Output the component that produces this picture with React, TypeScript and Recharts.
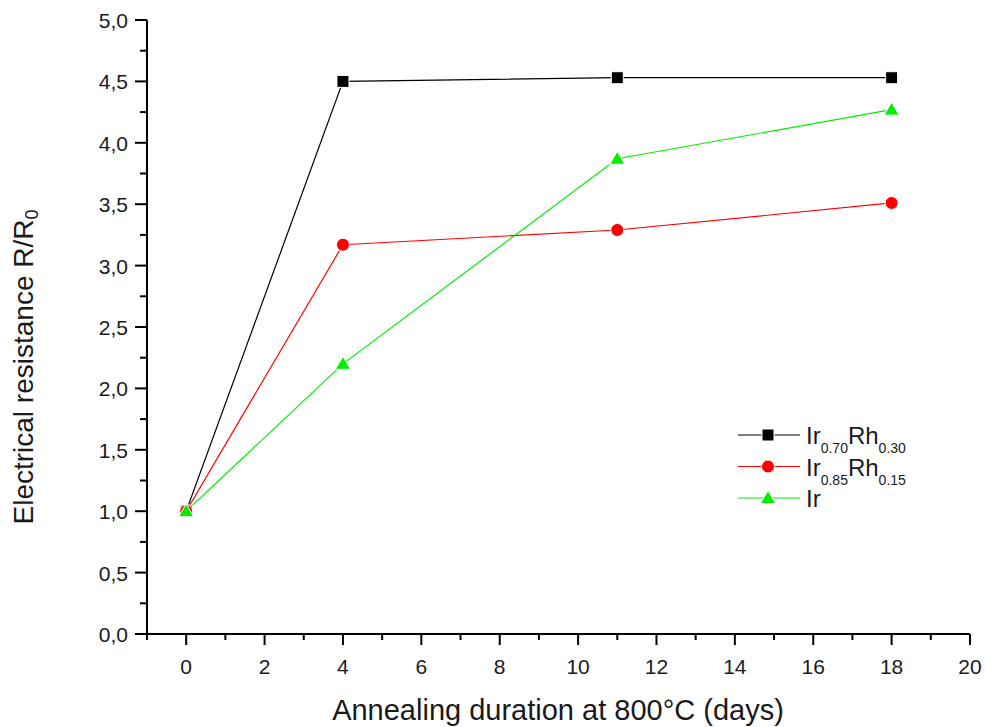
import { LineChart, Line, XAxis, YAxis, Legend } from "recharts";

// annealing duration (days) and normalised resistance R/R0
const DAYS = [0, 4, 11, 18];
const IR70_RH30 = [1.0, 4.5, 4.53, 4.53];
const IR85_RH15 = [1.0, 3.17, 3.29, 3.51];
const IR_PURE = [1.0, 2.2, 3.87, 4.27];

const X_TICKS = [-1, 0, 1, 2, 3, 4, 5, 6, 7, 8, 9, 10, 11, 12, 13, 14, 15, 16, 17, 18, 19, 20];
const Y_TICKS = [
  0, 0.25, 0.5, 0.75, 1, 1.25, 1.5, 1.75, 2, 2.25, 2.5, 2.75, 3, 3.25, 3.5, 3.75, 4, 4.25, 4.5, 4.75, 5,
];

const FONT = "'Liberation Sans', Arial, sans-serif";
const TEXT = "#1a1a1a";

const rows = DAYS.map((d, i) => ({
  day: d,
  a: IR70_RH30[i],
  b: IR85_RH15[i],
  c: IR_PURE[i],
}));

const XTick = (props: any) => {
  const { x, y, payload } = props;
  const v = payload.value;
  const major = v >= 0 && v % 2 === 0;
  return (
    <g>
      <line x1={x} x2={x} y1={y} y2={y + (major ? 11 : 6)} stroke="#000" strokeWidth={2} />
      {major && (
        <text x={x} y={y + 40} textAnchor="middle" fontSize={21} fontFamily={FONT} fill={TEXT}>
          {v}
        </text>
      )}
    </g>
  );
};

const YTick = (props: any) => {
  const { x, y, payload } = props;
  const v = payload.value;
  const major = v % 0.5 === 0;
  return (
    <g>
      <line x1={x} x2={x - (major ? 12 : 7)} y1={y} y2={y} stroke="#000" strokeWidth={2} />
      {major && (
        <text x={x - 19} y={y + 8} textAnchor="end" fontSize={21} fontFamily={FONT} fill={TEXT}>
          {v.toFixed(1).replace(".", ",")}
        </text>
      )}
    </g>
  );
};

const square = (cx: number, cy: number, key?: string) => (
  <rect key={key} x={cx - 6} y={cy - 6} width={12} height={12} fill="#000" stroke="#fff" strokeWidth={1} />
);
const circle = (cx: number, cy: number, key?: string) => (
  <circle key={key} cx={cx} cy={cy} r={6.5} fill="#ff0000" stroke="#fff" strokeWidth={1} />
);
const triangle = (cx: number, cy: number, key?: string) => (
  <polygon
    key={key}
    points={`${cx},${cy - 7.5} ${cx + 7.5},${cy + 5.5} ${cx - 7.5},${cy + 5.5}`}
    fill="#00ee00"
    stroke="#fff"
    strokeWidth={1}
  />
);

const LEGEND = [
  { main: ["Ir", "Rh"], subs: ["0.70", "0.30"], color: "#000", marker: square },
  { main: ["Ir", "Rh"], subs: ["0.85", "0.15"], color: "#ff0000", marker: circle },
  { main: ["Ir"], subs: [], color: "#00ee00", marker: triangle },
];

const renderLegend = () => (
  <svg width={220} height={100}>
    {LEGEND.map((it, i) => {
      const cy = 17 + i * 31.5;
      return (
        <g key={i}>
          <line x1={8} x2={70} y1={cy} y2={cy} stroke={it.color} strokeWidth={1.2} />
          {it.marker(38, cy)}
          <text x={76} y={cy + 9} fontSize={24} fontFamily={FONT} fill={TEXT}>
            {it.main.map((m, j) => (
              <tspan key={j}>
                <tspan dy={j === 0 ? 0 : -9} fontSize={24}>
                  {m}
                </tspan>
                {it.subs[j] && (
                  <tspan dy={9} fontSize={14}>
                    {it.subs[j]}
                  </tspan>
                )}
              </tspan>
            ))}
          </text>
        </g>
      );
    })}
  </svg>
);

export default function App() {
  return (
    <div style={{ position: "absolute", left: 0, top: 0, background: "#fff" }}>
      <LineChart width={986} height={727} data={rows} margin={{ top: 20, right: 16, left: 0, bottom: 0 }}>
        <XAxis
          dataKey="day"
          type="number"
          domain={[-1, 20]}
          ticks={X_TICKS}
          interval={0}
          tickSize={0}
          tickMargin={0}
          tickLine={false}
          tick={<XTick />}
          height={93}
          axisLine={{ stroke: "#000", strokeWidth: 2 }}
          allowDataOverflow
          label={{
            content: () => (
              <text x={558} y={720} textAnchor="middle" fontSize={29} fontFamily={FONT} fill={TEXT}>
                Annealing duration at 800°C (days)
              </text>
            ),
          }}
        />
        <YAxis
          type="number"
          domain={[0, 5]}
          ticks={Y_TICKS}
          interval={0}
          tickSize={0}
          tickMargin={0}
          tickLine={false}
          tick={<YTick />}
          width={147}
          axisLine={{ stroke: "#000", strokeWidth: 2 }}
          label={{
            content: () => (
              <text
                x={33}
                y={367}
                transform="rotate(-90, 33, 367)"
                textAnchor="middle"
                fontSize={28}
                fontFamily={FONT}
                fill={TEXT}
              >
                Electrical resistance R/R
                <tspan dy={5} fontSize={18}>
                  0
                </tspan>
              </text>
            ),
          }}
        />
        <Legend
          content={renderLegend}
          layout="horizontal"
          verticalAlign="middle"
          align="center"
          wrapperStyle={{ position: "absolute", left: 730, top: 418, width: 220, height: 100 }}
        />
        <Line
          dataKey="a"
          stroke="#000"
          strokeWidth={1.2}
          isAnimationActive={false}
          dot={(p: any) => square(p.cx, p.cy, `a-${p.index}`)}
          activeDot={false}
        />
        <Line
          dataKey="b"
          stroke="#ff0000"
          strokeWidth={1.2}
          isAnimationActive={false}
          dot={(p: any) => circle(p.cx, p.cy, `b-${p.index}`)}
          activeDot={false}
        />
        <Line
          dataKey="c"
          stroke="#00ee00"
          strokeWidth={1.2}
          isAnimationActive={false}
          dot={(p: any) => triangle(p.cx, p.cy, `c-${p.index}`)}
          activeDot={false}
        />
      </LineChart>
    </div>
  );
}
